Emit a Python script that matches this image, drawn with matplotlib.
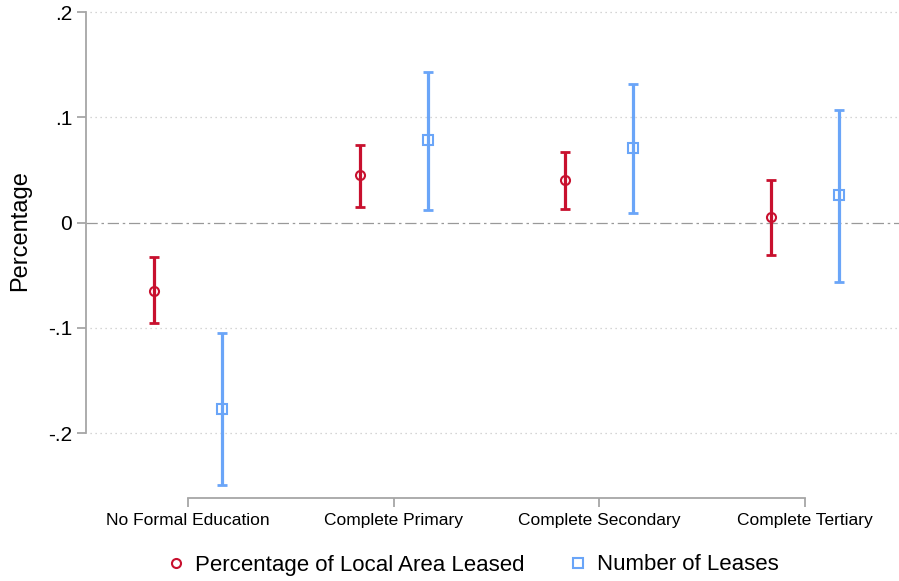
import matplotlib.pyplot as plt
from matplotlib.lines import Line2D
import numpy as np

plt.rcParams['font.family'] = ['Liberation Sans', 'DejaVu Sans']

# Coefficients and 95% CIs
categories = ["No Formal Education", "Complete Primary", "Complete Secondary", "Complete Tertiary"]
pct_est = [-0.065, 0.045, 0.040, 0.005]
pct_lo = [-0.095, 0.015, 0.013, -0.031]
pct_hi = [-0.033, 0.074, 0.067, 0.040]
lease_est = [-0.177, 0.078, 0.071, 0.026]
lease_lo = [-0.249, 0.012, 0.0095, -0.056]
lease_hi = [-0.105, 0.143, 0.132, 0.107]
yticks = [-0.2, -0.1, 0, 0.1, 0.2]
ytick_labels = ["-.2", "-.1", "0", ".1", ".2"]

red = "#C8102E"
blue = "#6AA5F8"
gray = "#A6A6A6"

fig = plt.figure(figsize=(8.99, 5.81), dpi=100)
ax = fig.add_axes([86 / 899, 83 / 581, 813 / 899, 486 / 581])

x = np.arange(1, len(categories) + 1)
off = 0.165

# gridlines: dotted, zero line dash-dot
for yv in yticks:
    if yv == 0:
        ax.axhline(0, color="#999999", lw=0.9, ls=(0, (9, 3, 2, 3)), zorder=1)
    else:
        ax.axhline(yv, xmin=0.005, color="#C8C8C8", lw=0.9, ls=(0, (1, 3)), zorder=1, clip_on=False)

def draw(xpos, est, lo, hi, color, marker):
    est = np.array(est)
    err = [est - np.array(lo), np.array(hi) - est]
    ax.errorbar(xpos, est, yerr=err, fmt="none", ecolor=color, elinewidth=2.3,
                capsize=3.6, capthick=2, zorder=3)
    ax.plot(xpos, est, ls="none", marker=marker, ms=6.5, mfc="none", mec=color, mew=1.5, zorder=4)

draw(x - off, pct_est, pct_lo, pct_hi, red, "o")
draw(x + off, lease_est, lease_lo, lease_hi, blue, "s")

ax.set_xlim(0.505, 4.456)
ax.set_ylim(-0.2615, 0.2)
ax.set_yticks(yticks)
ax.set_yticklabels(ytick_labels, fontsize=15)
ax.set_xticks(x)
ax.set_xticklabels(categories, fontsize=12.5)

for s in ["top", "right"]:
    ax.spines[s].set_visible(False)
ax.spines["left"].set_bounds(-0.2, 0.2)
ax.spines["bottom"].set_bounds(1, 4)
for s in ["left", "bottom"]:
    ax.spines[s].set_color(gray)
    ax.spines[s].set_linewidth(1.3)
ax.tick_params(axis="y", direction="out", length=6.5, width=1.3, color=gray, pad=3.5)
ax.tick_params(axis="x", direction="out", length=6.5, width=1.3, color=gray, pad=4)

fig.text(20 / 899, 1 - 231 / 581, "Percentage", rotation=90, ha="center", va="center", fontsize=17)

handles = [
    Line2D([], [], ls="none", marker="o", ms=6.5, mfc="none", mec=red, mew=1.5),
    Line2D([], [], ls="none", marker="s", ms=6.5, mfc="none", mec=blue, mew=1.5),
]
fig.legend(handles, ["Percentage of Local Area Leased", "Number of Leases"],
           loc="center", bbox_to_anchor=(472 / 899, 1 - 565 / 581), ncol=2, frameon=False,
           fontsize=16, handletextpad=0.36, columnspacing=1.9, handlelength=1.0)

fig.savefig("out.png", dpi=100)
